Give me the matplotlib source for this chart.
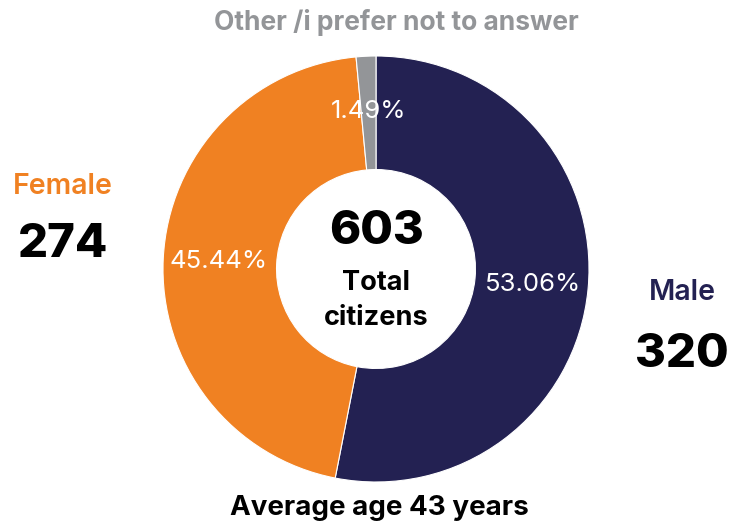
import matplotlib.pyplot as plt

plt.rcParams['font.family'] = ['Inter', 'DejaVu Sans']

# data
labels = ["Male", "Female", "Other /i prefer not to answer"]
counts = [320, 274, 9]
pct_labels = ["53.06%", "45.44%", "1.49%"]
colors = ["#232152", "#F08122", "#939598"]
total = sum(counts)
avg_age = 43

fig = plt.figure(figsize=(7.29, 5.26), dpi=100)
ax = fig.add_axes([0, 0, 1, 1])

H = 526
cx, cy, R = 376, H - 269, 213

wedges, texts, autotexts = ax.pie(
    counts, colors=colors, startangle=90, counterclock=False,
    center=(cx, cy), radius=R, autopct="%.2f%%", pctdistance=0.74,
    wedgeprops=dict(width=R * 0.533, edgecolor="white", linewidth=0.8),
    textprops=dict(color="white", fontsize=18.5))
for t, s in zip(autotexts, pct_labels):
    t.set_text(s)

ax.set_xlim(0, 729)
ax.set_ylim(0, 526)
ax.set_aspect("equal")
ax.axis("off")

# centre text
ax.text(377, H - 232, str(total), ha="center", va="center",
        fontsize=34, fontweight="heavy", color="black")
ax.text(376, H - 283, "Total", ha="center", va="center",
        fontsize=19.5, fontweight="bold", color="black")
ax.text(376, H - 318, "citizens", ha="center", va="center",
        fontsize=19.5, fontweight="bold", color="black")

# side labels
ax.text(396, H - 22, labels[2], ha="center", va="center",
        fontsize=19, fontweight="bold", color=colors[2])
ax.text(63, H - 187, labels[1], ha="center", va="center",
        fontsize=20.5, fontweight="semibold", color=colors[1])
ax.text(63, H - 245, str(counts[1]), ha="center", va="center",
        fontsize=34, fontweight="heavy", color="black")
ax.text(682, H - 293, labels[0], ha="center", va="center",
        fontsize=20.5, fontweight="semibold", color=colors[0])
ax.text(682, H - 355, str(counts[0]), ha="center", va="center",
        fontsize=34, fontweight="heavy", color="black")

ax.text(379, H - 508, f"Average age {avg_age} years", ha="center", va="center",
        fontsize=20, fontweight="bold", color="black")

fig.savefig("out.png", dpi=100)
